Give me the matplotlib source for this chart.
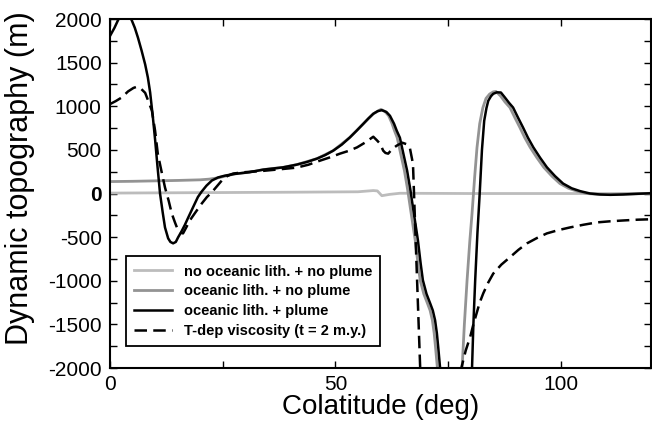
import matplotlib
matplotlib.use("Agg")
from matplotlib import pyplot as plt
from matplotlib.ticker import MultipleLocator

plt.rcParams['font.family'] = ['Liberation Sans', 'DejaVu Sans']
plt.rcParams['axes.unicode_minus'] = False

y_ticks = [-2000, -1500, -1000, -500, 0, 500, 1000, 1500, 2000]

# no oceanic lith. + no plume
x_none = [0, 20, 40, 55, 58.4, 59.3, 60.3, 62, 64.3, 80, 100, 120]
y_none = [5, 10, 15, 20, 34, 30, -25, -10, 3, 0, 0, 0]

# oceanic lith. + no plume
x_lith = [0, 5, 10, 15, 20, 22, 24, 26, 27.7, 31, 34, 38.4, 41.4, 45.9, 49.5,
          53.2, 56.2, 58.4, 60.1, 61, 61.8, 62.5, 63.1, 63.7, 64.5, 65.3, 66.0,
          66.6, 67.7, 68.3, 68.8, 69.6, 70.4, 71, 71.5, 71.9, 72.2, 72.6, 73.4,
          76, 77.6, 78.1, 78.6, 79.2, 79.8, 80.3, 80.9, 81.4, 82, 82.7, 83.4,
          84.2, 85, 85.6, 86.6, 87.6, 88.7, 89.8, 90.9, 92, 93.2, 94.7, 96.2,
          98, 99.8, 101.7, 103.6, 105.8, 108, 110.5, 113, 117, 120]
y_lith = [137, 140, 145, 150, 157, 165, 180, 205, 225, 245, 274, 300, 331, 400,
          491, 643, 800, 914, 965, 940, 891, 810, 720, 640, 450, 263, 50, -160,
          -537, -800, -994, -1150, -1257, -1340, -1451, -1600, -1760, -1989,
          -2300, -2600, -2400, -2000, -1500, -994, -550, -229, 200, 526, 800,
          983, 1090, 1140, 1165, 1170, 1120, 1050, 986, 870, 758, 640, 529, 410,
          301, 200, 114, 60, 27, 0, -8, -12, -8, -3, 3]

# oceanic lith. + plume
x_plume = [0, 1, 1.8, 2.5, 3.3, 4.1, 4.8, 5.5, 6.2, 7, 7.8, 8.4, 8.9, 9.5, 10,
           10.5, 11.1, 11.7, 12.2, 12.9, 13.4, 14, 14.6, 15.1, 15.8, 16.6, 17.4,
           18.4, 19.5, 20.3, 21.4, 22.6, 24, 25.5, 27.7, 31, 34, 38.4, 41.4,
           43.7, 45.9, 47.7, 49.5, 51.4, 53.2, 54.7, 56.2, 57.3, 58.4, 59.4,
           60.3, 61.3, 62.1, 63, 63.6, 64.3, 65.1, 65.9, 66.6, 67.2, 68.3, 68.9,
           69.4, 70.2, 71, 71.6, 72.1, 72.5, 72.8, 73.2, 74, 76, 79.5, 80.3,
           80.6, 81, 81.5, 82, 82.5, 83, 83.5, 83.9, 84.5, 85, 85.8, 86.7, 87.6,
           88.5, 89.4, 90.5, 91.6, 92.7, 93.9, 95.4, 96.9, 98.7, 100.5, 102.4,
           104.3, 106.5, 108.7, 111, 113.8, 117, 120]
y_plume = [1806, 1900, 1989, 2040, 2060, 2040, 1989, 1900, 1787, 1640, 1480,
           1330, 1160, 880, 620, 330, 0, -220, -389, -514, -555, -571, -555,
           -503, -440, -360, -270, -160, -40, 20, 90, 149, 185, 205, 225, 245,
           274, 300, 331, 362, 400, 440, 491, 560, 643, 720, 800, 860, 914, 945,
           955, 935, 891, 800, 720, 640, 450, 263, 50, -160, -537, -800, -994,
           -1150, -1257, -1340, -1451, -1600, -1760, -1989, -2300, -2600, -2400,
           -2000, -1500, -994, -450, 0, 500, 834, 980, 1063, 1115, 1143, 1160,
           1158, 1100, 1040, 986, 870, 758, 640, 529, 410, 301, 200, 114, 60,
           27, 0, -11, -15, -11, -3, 3]

# T-dep viscosity (t = 2 m.y.)
x_tdep = [0, 1.3, 2.6, 4, 5.2, 5.9, 6.8, 7.8, 8.5, 9.3, 10, 10.6, 11.4, 12.2,
          13, 13.7, 14.4, 15.1, 15.7, 16.2, 16.9, 17.7, 18.9, 20.3, 21.5, 22.6,
          24.8, 26, 27.3, 30, 34, 37.7, 41.4, 44, 46.6, 49, 51, 53, 54.8, 56.6,
          58.4, 59.2, 59.9, 60.6, 61.1, 61.7, 62.6, 63.6, 64.8, 65.8, 66.5,
          67.2, 68.8, 69.2, 77.3, 78, 78.9, 79.9, 80.6, 81.3, 82, 82.8, 83.9,
          85, 86.8, 88.7, 90.6, 92.5, 94.7, 96.9, 99.4, 102, 105, 108, 111,
          113.8, 117, 120]
y_tdep = [1025, 1060, 1101, 1170, 1210, 1223, 1205, 1154, 1060, 949, 720, 457,
          260, 69, -80, -229, -330, -423, -450, -457, -390, -309, -220, -118,
          -40, 15, 149, 200, 229, 245, 260, 278, 297, 330, 377, 418, 457, 490,
          529, 585, 651, 610, 571, 491, 465, 457, 510, 549, 583, 565, 526, 340,
          -2000, -2600, -2600, -1985, -1800, -1642, -1500, -1375, -1250, -1143,
          -1020, -918, -815, -731, -645, -571, -510, -457, -420, -389, -358,
          -331, -318, -309, -300, -295]

fig = plt.figure(figsize=(6.52, 4.23), dpi=100)
ax = fig.add_axes([0.1687, 0.130, 0.8298, 0.825])

ax.plot(x_none, y_none, color='#bcbcbc', lw=2, label='no oceanic lith. + no plume')
ax.plot(x_lith, y_lith, color='#939393', lw=2, label='oceanic lith. + no plume')
ax.plot(x_plume, y_plume, color='black', lw=1.8, label='oceanic lith. + plume')
ax.plot(x_tdep, y_tdep, color='black', lw=1.8, linestyle=(0, (5, 2.5)),
        label='T-dep viscosity (t = 2 m.y.)')

ax.set_xlim(0, 120)
ax.set_ylim(-2000, 2000)
ax.xaxis.set_major_locator(MultipleLocator(50))
ax.xaxis.set_minor_locator(MultipleLocator(25))
ax.set_yticks(y_ticks)
ax.set_yticklabels([str(t) for t in y_ticks])
ax.yaxis.set_minor_locator(MultipleLocator(250))
ax.tick_params(which='both', direction='in', top=True, right=True,
               length=5, width=1, labelsize=15)
ax.tick_params(axis='y', pad=6)
ax.tick_params(axis='x', pad=5)
for lab in ax.get_yticklabels():
    if lab.get_text() == '0':
        lab.set_fontweight('bold')
for s in ax.spines.values():
    s.set_linewidth(1.5)

ax.set_xlabel('Colatitude (deg)', fontsize=20, labelpad=0)
ax.set_ylabel('Dynamic topography (m)', fontsize=22)
ax.yaxis.set_label_coords(-0.139, 0.543)

leg = ax.legend(loc='lower left', bbox_to_anchor=(0.03, 0.063), borderaxespad=0,
                prop={'weight': 'bold', 'size': 10.5}, fancybox=False,
                framealpha=1, edgecolor='black', handlelength=2.6,
                labelspacing=0.4, borderpad=0.55)
leg.get_frame().set_linewidth(1.3)

fig.savefig('out.png', dpi=100)
